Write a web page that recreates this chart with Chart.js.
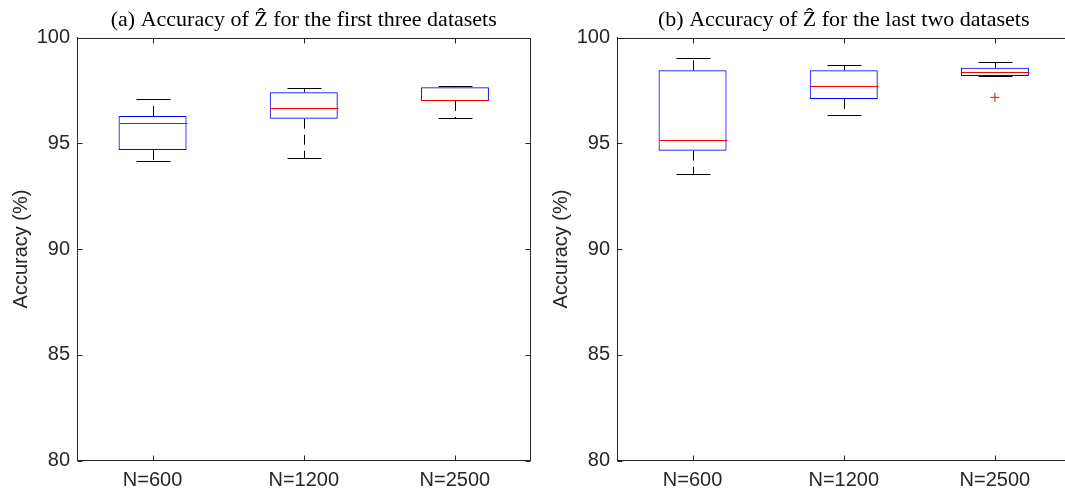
<!DOCTYPE html>
<html>
<head>
<meta charset="utf-8">
<script src="https://cdn.jsdelivr.net/npm/chart.js@4"></script>
<style>
  html, body { margin: 0; padding: 0; background: #fff; overflow: hidden; }
  #wrap { position: relative; width: 1065px; height: 492px; overflow: hidden; }
  #wrap canvas { position: absolute; top: 0; }
</style>
</head>
<body>
<div id="wrap">
  <canvas id="chartA" width="540" height="492" style="left:0"></canvas>
  <canvas id="chartB" width="540" height="492" style="left:540px"></canvas>
</div>
<script>
// categories and tick labels
var labels = ['N=600', 'N=1200', 'N=2500'];
var yTicks = [80, 85, 90, 95, 100];

// (a) first three datasets
var aLow  = [94.16, 94.32, 96.18];
var aQ1   = [94.68, 96.16, 97.00];
var aMed  = [95.94, 96.65, 97.03];
var aQ3   = [96.29, 97.41, 97.65];
var aHigh = [97.10, 97.63, 97.71];
var aOut  = [null, null, null];

// (b) last two datasets
var bLow  = [93.55, 96.35, 98.18];
var bQ1   = [94.65, 97.09, 98.18];
var bMed  = [95.17, 97.69, 98.38];
var bQ3   = [98.45, 98.45, 98.57];
var bHigh = [99.05, 98.72, 98.84];
var bOut  = [null, null, 97.17];

Chart.defaults.font.family = '"Liberation Sans", Arial, Helvetica, sans-serif';
Chart.defaults.font.size = 20;
Chart.defaults.color = '#262626';

var axisCol = '#262626';

// whiskers, medians, frame, inward ticks and the serif title
var boxParts = {
  id: 'boxParts',
  afterDatasetsDraw: function(chart) {
    var o = chart.options.plugins.boxParts;
    var ctx = chart.ctx, a = chart.chartArea;
    var x = chart.scales.x, y = chart.scales.y;
    var bars = chart.getDatasetMeta(0).data;
    ctx.save();
    ctx.lineWidth = 1;
    for (var i = 0; i < labels.length; i++) {
      var px = Math.round(x.getPixelForValue(i)) + 0.5;
      var hw = bars[i].width / 2;
      var cap = hw / 2;
      var yLo = Math.round(y.getPixelForValue(o.low[i])) + 0.5;
      var yQ1 = y.getPixelForValue(o.q1[i]);
      var yQ3 = y.getPixelForValue(o.q3[i]);
      var yHi = Math.round(y.getPixelForValue(o.high[i])) + 0.5;
      var yMd = Math.round(y.getPixelForValue(o.med[i])) + 0.5;
      // dashed whiskers
      ctx.strokeStyle = '#000';
      ctx.setLineDash([10, 6]);
      ctx.beginPath();
      if (o.high[i] > o.q3[i]) { ctx.moveTo(px, yQ3); ctx.lineTo(px, yHi); }
      if (o.low[i] < o.q1[i]) { ctx.moveTo(px, yQ1); ctx.lineTo(px, yLo); }
      ctx.stroke();
      ctx.setLineDash([]);
      // caps
      ctx.beginPath();
      ctx.moveTo(px - cap, yHi); ctx.lineTo(px + cap, yHi);
      ctx.moveTo(px - cap, yLo); ctx.lineTo(px + cap, yLo);
      ctx.stroke();
      // median
      ctx.strokeStyle = '#ff0000';
      ctx.beginPath();
      ctx.moveTo(px - hw, yMd); ctx.lineTo(px + hw, yMd);
      ctx.stroke();
    }
    // frame top and right
    ctx.strokeStyle = axisCol;
    var L = Math.round(a.left) + 0.5, R = Math.round(a.right) - 0.5;
    var T = Math.round(a.top) + 0.5, B = Math.round(a.bottom) - 0.5;
    ctx.beginPath();
    ctx.moveTo(L, T); ctx.lineTo(R, T); ctx.lineTo(R, B);
    // inward ticks
    y.ticks.forEach(function(t) {
      var py = Math.round(y.getPixelForValue(t.value)) + 0.5;
      ctx.moveTo(L, py); ctx.lineTo(L + 5, py);
      ctx.moveTo(R, py); ctx.lineTo(R - 5, py);
    });
    for (var j = 0; j < labels.length; j++) {
      var tx = Math.round(x.getPixelForValue(j)) + 0.5;
      ctx.moveTo(tx, B); ctx.lineTo(tx, B - 5);
      ctx.moveTo(tx, T); ctx.lineTo(tx, T + 5);
    }
    ctx.stroke();
    // title
    ctx.fillStyle = '#000';
    ctx.font = '22px "Liberation Serif", "DejaVu Serif", serif';
    ctx.textAlign = 'center';
    ctx.textBaseline = 'alphabetic';
    ctx.fillText(o.title, (a.left + a.right) / 2, 26);
    ctx.restore();
  }
};

function makeChart(id, title, low, q1, med, q3, high, out) {
  var boxes = q1.map(function(v, i) { return [v, q3[i]]; });
  return new Chart(document.getElementById(id), {
    type: 'bar',
    data: {
      labels: labels,
      datasets: [{
        label: 'box',
        data: boxes,
        backgroundColor: 'rgba(0,0,0,0)',
        borderColor: '#0000ff',
        borderWidth: 1,
        borderSkipped: false,
        barPercentage: 0.45,
        categoryPercentage: 1
      }, {
        type: 'line',
        label: 'outliers',
        data: out,
        showLine: false,
        pointStyle: 'cross',
        pointRadius: 4.5,
        pointBorderColor: '#ff0000',
        pointBorderWidth: 1,
        pointBackgroundColor: '#ff0000'
      }]
    },
    options: {
      responsive: false,
      animation: false,
      events: [],
      layout: { padding: { left: 0, top: 37.5, right: 9.5, bottom: 0 } },
      plugins: {
        legend: { display: false },
        tooltip: { enabled: false },
        boxParts: { title: title, low: low, q1: q1, med: med, q3: q3, high: high }
      },
      scales: {
        x: {
          offset: true,
          grid: { display: true, drawOnChartArea: false, drawTicks: false },
          border: { display: true, color: axisCol, width: 1 },
          ticks: { padding: 8, color: '#262626', maxRotation: 0 },
          afterFit: function(s) { s.height = 31.5; }
        },
        y: {
          min: 80,
          max: 100,
          afterBuildTicks: function(s) { s.ticks = yTicks.map(function(v) { return { value: v }; }); },
          grid: { display: true, drawOnChartArea: false, drawTicks: false },
          border: { display: true, color: axisCol, width: 1 },
          ticks: { padding: 7, color: '#262626' },
          title: { display: true, text: 'Accuracy (%)', color: '#262626', padding: { top: 9, bottom: 0 } },
          afterFit: function(s) { s.width = 77; }
        }
      }
    },
    plugins: [boxParts]
  });
}

makeChart('chartA', '(a) Accuracy of \u1E90 for the first three datasets', aLow, aQ1, aMed, aQ3, aHigh, aOut);
makeChart('chartB', '(b) Accuracy of \u1E90 for the last two datasets', bLow, bQ1, bMed, bQ3, bHigh, bOut);
</script>
</body>
</html>
